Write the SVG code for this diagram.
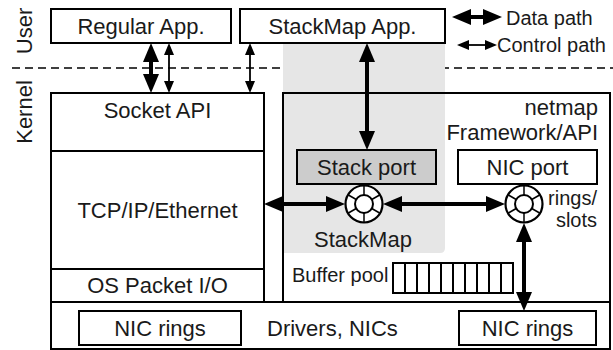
<svg xmlns="http://www.w3.org/2000/svg" xmlns:xlink="http://www.w3.org/1999/xlink" width="613" height="350" viewBox="0 0 613 350">
<style>
text{font-family:"Liberation Sans",Arial,Helvetica,sans-serif;fill:#1a1a1a}
.t22{font-size:22px}
.t20{font-size:20px}
.m{text-anchor:middle}
.e{text-anchor:end}
.box{fill:#fff;stroke:#000;stroke-width:2}
.thick{stroke:#000;stroke-width:4;fill:none;marker-start:url(#hT);marker-end:url(#hT)}
.thin{stroke:#000;stroke-width:1.8;fill:none;marker-start:url(#ht);marker-end:url(#ht)}
.sp{stroke:#000;stroke-width:1.5}
</style>
<defs>
<marker id="hT" viewBox="0 0 19 16" markerWidth="19" markerHeight="16" refX="13" refY="8" markerUnits="userSpaceOnUse" orient="auto-start-reverse"><path d="M0,0 L19,8 L0,16 Z" fill="#000"/></marker>
<marker id="ht" viewBox="0 0 12 10" markerWidth="12" markerHeight="10" refX="8" refY="5" markerUnits="userSpaceOnUse" orient="auto-start-reverse"><path d="M0,0 L12,5 L0,10 Z" fill="#000"/></marker>
<g id="ring">
<circle r="18.5" fill="#fff" stroke="#000" stroke-width="2.2"/>
<line class="sp" x1="0" y1="-9" x2="0" y2="-18.5"/>
<line class="sp" x1="0" y1="9" x2="0" y2="18.5"/>
<line class="sp" x1="7.79" y1="-4.5" x2="16.02" y2="-9.25"/>
<line class="sp" x1="-7.79" y1="-4.5" x2="-16.02" y2="-9.25"/>
<line class="sp" x1="7.79" y1="4.5" x2="16.02" y2="9.25"/>
<line class="sp" x1="-7.79" y1="4.5" x2="-16.02" y2="9.25"/>
<circle r="9" fill="#fff" stroke="#000" stroke-width="2"/>
</g>
</defs>
<rect width="613" height="350" fill="#fff"/>

<g id="labels-side">
<text class="t22 m" x="32" y="31" transform="rotate(-90 32 31)">User</text>
<text class="t22 m" x="32" y="112" transform="rotate(-90 32 112)">Kernel</text>
<line x1="12" y1="68" x2="613" y2="68" stroke="#000" stroke-width="1.5" stroke-dasharray="8,5"/>
</g>

<g id="stackmap-region">
<path d="M283,43 H445 V248 Q445,253 440,253 H283 Z" fill="#e6e6e6"/>
</g>

<g id="regular-app">
<rect class="box" x="51" y="9" width="180" height="34"/>
<text class="t22 m" x="141" y="34">Regular App.</text>
</g>
<g id="stackmap-app">
<rect class="box" x="240" y="9" width="205" height="34"/>
<text class="t22 m" x="342.5" y="34">StackMap App.</text>
</g>

<g id="legend">
<line class="thick" x1="458" y1="17" x2="496" y2="17"/>
<text class="t20" x="506" y="25">Data path</text>
<line class="thin" x1="461" y1="45" x2="493" y2="45"/>
<text class="t20" x="497" y="52">Control path</text>
</g>

<g id="kernel-stack">
<rect class="box" x="51" y="93" width="213" height="209"/>
<line x1="51" y1="151" x2="264" y2="151" stroke="#000" stroke-width="2"/>
<line x1="51" y1="269" x2="264" y2="269" stroke="#000" stroke-width="2"/>
<text class="t22 m" x="157.5" y="118">Socket API</text>
<text class="t22 m" x="157.5" y="218">TCP/IP/Ethernet</text>
<text class="t22 m" x="157.5" y="293">OS Packet I/O</text>
</g>

<g id="netmap">
<rect x="283" y="93" width="327" height="209" fill="none" stroke="#000" stroke-width="2"/>
<text class="t22 e" x="598" y="115">netmap</text>
<text class="t22 e" x="598" y="140">Framework/API</text>
</g>

<g id="stack-port">
<rect x="297" y="150" width="139" height="34" fill="#cccccc" stroke="#000" stroke-width="2"/>
<text class="t22 m" x="366.5" y="175">Stack port</text>
</g>
<g id="nic-port">
<rect class="box" x="458" y="150" width="139" height="34"/>
<text class="t22 m" x="527.5" y="175">NIC port</text>
</g>

<g id="stackmap-ring">
<use xlink:href="#ring" href="#ring" x="364" y="204"/>
<text class="t22 m" x="363" y="247">StackMap</text>
</g>
<g id="nic-ring">
<use xlink:href="#ring" href="#ring" x="524" y="204"/>
<text class="t20 e" x="597" y="205">rings/</text>
<text class="t20 e" x="597" y="227">slots</text>
</g>

<g id="buffer-pool">
<text class="t20" x="292" y="282">Buffer pool</text>
<rect x="393" y="263" width="120" height="30" fill="#fff" stroke="#000" stroke-width="2"/>
<path d="M405,263V293M417,263V293M429,263V293M441,263V293M453,263V293M465,263V293M477,263V293M489,263V293M501,263V293" stroke="#000" stroke-width="2"/>
</g>

<g id="drivers">
<rect x="51" y="302" width="559" height="47" fill="none" stroke="#000" stroke-width="2"/>
<text class="t22" x="267" y="336">Drivers, NICs</text>
</g>
<g id="nic-rings-left">
<rect class="box" x="79" y="311" width="162" height="34"/>
<text class="t22 m" x="160" y="336">NIC rings</text>
</g>
<g id="nic-rings-right">
<rect class="box" x="459" y="311" width="137" height="34"/>
<text class="t22 m" x="527.5" y="336">NIC rings</text>
</g>

<g id="connectors">
<line class="thick" x1="151" y1="49" x2="151" y2="87"/>
<line class="thin" x1="169" y1="47" x2="169" y2="89"/>
<line class="thin" x1="250" y1="47" x2="250" y2="89"/>
<line class="thick" x1="367" y1="49" x2="367" y2="144"/>
<line class="thick" x1="270" y1="204" x2="339" y2="204"/>
<line class="thick" x1="389" y1="204" x2="499" y2="204"/>
<line class="thick" x1="524" y1="229" x2="524" y2="305"/>
</g>
</svg>
